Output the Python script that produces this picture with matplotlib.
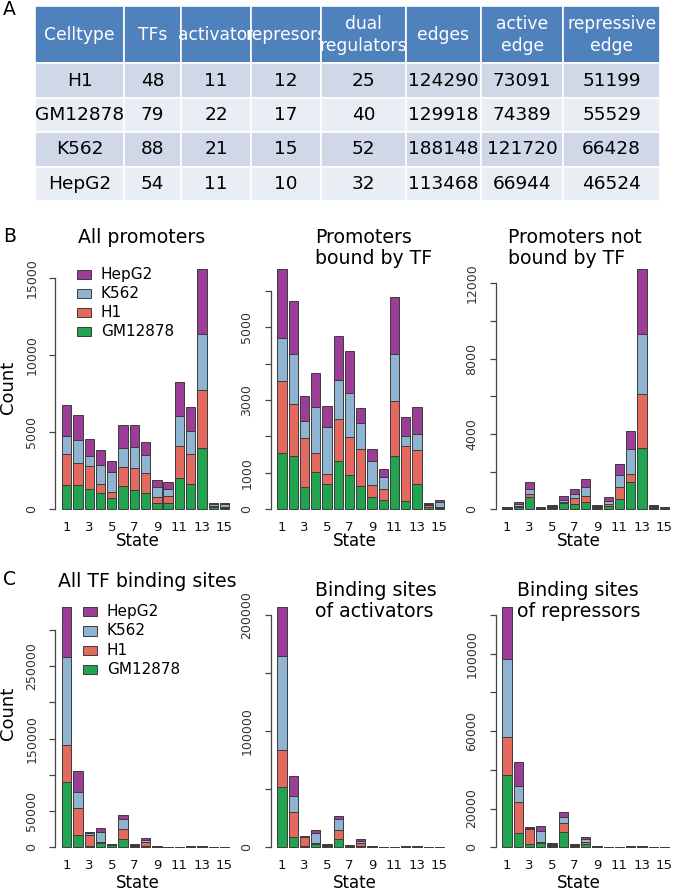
import numpy as np
import matplotlib
matplotlib.use("Agg")
import matplotlib.pyplot as plt
from matplotlib.patches import Rectangle

plt.rcParams['font.family'] = ['DejaVu Sans']

W, H = 673, 892

# ---------------- data ----------------
cell_types = ["GM12878", "H1", "K562", "HepG2"]          # stacking order, bottom -> top
legend_order = ["HepG2", "K562", "H1", "GM12878"]
colors = {"GM12878": "#22A34F", "H1": "#E4695F", "K562": "#8EB4D1", "HepG2": "#9C3E97"}
states = list(range(1, 16))

# Panel A table
table_header = ["Celltype", "TFs", "activator", "represors", "dual\nregulators",
                "edges", "active\nedge", "repressive\nedge"]
table_celltypes = ["H1", "GM12878", "K562", "HepG2"]
table_tfs = [48, 79, 88, 54]
table_activators = [11, 22, 21, 11]
table_repressors = [12, 17, 15, 10]
table_dual = [25, 40, 52, 32]
table_edges = [124290, 129918, 188148, 113468]
table_active_edges = [73091, 74389, 121720, 66944]
table_repressive_edges = [51199, 55529, 66428, 46524]

# Panel B: all promoters
allprom_gm = [1575, 1554, 1295, 1036, 734, 1489, 1230, 1036, 388, 388, 2007, 1640, 3949, 120, 100]
allprom_h1 = [1986, 1424, 1510, 583, 367, 1230, 1424, 1295, 389, 475, 2115, 1964, 3777, 100, 60]
allprom_k562 = [1187, 1511, 648, 1273, 1338, 1252, 1360, 1208, 690, 432, 1942, 1489, 3647, 130, 160]
allprom_hepg2 = [2007, 1597, 1100, 971, 669, 1467, 1424, 820, 410, 453, 2179, 1554, 4208, 80, 60]

# Panel B: promoters bound by TF
bound_gm = [1537, 1455, 613, 1034, 686, 1327, 951, 640, 339, 247, 1455, 229, 695, 60, 40]
bound_h1 = [1976, 1427, 1354, 503, 293, 1143, 1025, 1007, 338, 311, 1509, 1500, 943, 50, 20]
bound_k562 = [1180, 1391, 448, 1272, 1290, 1071, 1208, 713, 640, 320, 1299, 275, 421, 40, 150]
bound_hepg2 = [1913, 1445, 705, 942, 576, 1226, 1162, 421, 330, 238, 1574, 521, 741, 33, 37]

# Panel B: promoters not bound by TF
unbound_gm = [40, 100, 637, 30, 60, 318, 283, 371, 60, 195, 566, 1433, 3255, 60, 40]
unbound_h1 = [30, 100, 194, 25, 50, 71, 318, 337, 50, 106, 602, 424, 2848, 60, 30]
unbound_k562 = [40, 80, 230, 25, 80, 106, 195, 477, 60, 124, 654, 1327, 3219, 60, 40]
unbound_hepg2 = [30, 110, 372, 26, 58, 213, 301, 407, 60, 230, 584, 991, 3450, 68, 31]

# Panel C: all TF binding sites
tfbs_gm = [89700, 16560, 2000, 5980, 2500, 11500, 1500, 1200, 400, 150, 250, 300, 400, 150, 120]
tfbs_h1 = [51500, 38180, 15000, 1380, 500, 13340, 1000, 6200, 300, 100, 200, 300, 400, 100, 80]
tfbs_k562 = [121000, 22080, 2300, 13800, 1200, 14720, 1200, 3200, 400, 150, 250, 300, 400, 150, 120]
tfbs_hepg2 = [69900, 28980, 1400, 5520, 400, 5520, 440, 2300, 300, 100, 200, 300, 300, 100, 80]

# Panel C: binding sites of activators
act_gm = [52300, 8620, 1440, 2590, 1200, 6900, 900, 1000, 250, 80, 150, 200, 250, 80, 70]
act_h1 = [31620, 22130, 7180, 860, 300, 7760, 600, 3000, 200, 70, 150, 200, 200, 70, 60]
act_k562 = [80480, 13800, 860, 8910, 800, 9480, 600, 1750, 250, 80, 150, 200, 250, 80, 70]
act_hepg2 = [42800, 16670, 580, 2870, 290, 3160, 200, 1150, 200, 70, 150, 200, 200, 70, 50]

# Panel C: binding sites of repressors
rep_gm = [37350, 7570, 1550, 2410, 800, 8090, 600, 1720, 150, 40, 100, 150, 200, 40, 30]
rep_h1 = [19790, 15830, 7750, 520, 300, 4650, 500, 1030, 100, 30, 80, 150, 150, 30, 20]
rep_k562 = [39930, 8100, 500, 5670, 800, 3090, 500, 1380, 150, 40, 100, 150, 200, 40, 30]
rep_hepg2 = [27190, 12560, 870, 2590, 340, 2240, 300, 1380, 100, 40, 70, 150, 150, 40, 20]

# y-axis ticks (positions) and which of them carry labels
yt_allprom = [0, 5000, 10000, 15000];            yl_allprom = [0, 5000, 10000, 15000]
yt_bound = [0, 1000, 2000, 3000, 4000, 5000, 6000]; yl_bound = [0, 1000, 3000, 5000]
yt_unbound = [0, 2000, 4000, 6000, 8000, 10000, 12000]; yl_unbound = [0, 4000, 8000, 12000]
yt_tfbs = [0, 50000, 100000, 150000, 200000, 250000, 300000]; yl_tfbs = [0, 50000, 150000, 250000]
yt_act = [0, 50000, 100000, 150000, 200000];     yl_act = [0, 100000, 200000]
yt_rep = [0, 20000, 40000, 60000, 80000, 100000, 120000]; yl_rep = [0, 20000, 60000, 100000]

xtick_states = [1, 3, 5, 7, 9, 11, 13, 15]

# ---------------- figure ----------------
fig = plt.figure(figsize=(W / 100, H / 100), dpi=100)


def px_axes(left, top, right, bottom):
    return fig.add_axes([left / W, 1 - bottom / H, (right - left) / W, (bottom - top) / H])


def ftext(x, y, s, **kw):
    fig.text(x / W, 1 - y / H, s, **kw)


def stacked(ax, layers, yticks, ylabels):
    centers = np.arange(len(states)) * 1.2 + 0.7
    bottom = np.zeros(len(states))
    for ct, vals in zip(cell_types, layers):
        vals = np.asarray(vals, dtype=float)
        ax.bar(centers, vals, width=1.0, bottom=bottom, color=colors[ct],
               edgecolor="#3c3c3c", linewidth=0.7)
        bottom += vals
    top = bottom.max()
    ax.set_ylim(-0.04 * top, 1.04 * top)
    lo, hi = centers[0] - 0.5, centers[-1] + 0.5
    pad = 0.04 * (hi - lo)
    ax.set_xlim(lo - pad, hi + pad)
    for s in ["top", "right", "bottom"]:
        ax.spines[s].set_visible(False)
    ax.spines["left"].set_bounds(yticks[0], yticks[-1])
    ax.spines["left"].set_color("#444444")
    ax.spines["left"].set_linewidth(0.9)
    ax.set_yticks(yticks)
    ax.set_yticklabels([str(t) if t in ylabels else "" for t in yticks])
    ax.tick_params(axis="y", length=6 * 0.72, width=0.9, color="#444444",
                   labelsize=9, labelcolor="#333333", pad=8, labelrotation=90)
    for lab in ax.get_yticklabels():
        lab.set_va("center")
        lab.set_ha("right")
    ax.set_xticks([centers[s - 1] for s in xtick_states])
    ax.set_xticklabels([str(s) for s in xtick_states])
    ax.tick_params(axis="x", length=0, labelsize=9.5, labelcolor="#111111", pad=1.5)
    ax.patch.set_alpha(0)


b_lr = [(55.3, 235.9), (270.6, 450.9), (495.6, 675.9)]
b_tb = (259.0, 518.9)
c_tb = (597.0, 856.9)

panels_b = [
    ([allprom_gm, allprom_h1, allprom_k562, allprom_hepg2], yt_allprom, yl_allprom),
    ([bound_gm, bound_h1, bound_k562, bound_hepg2], yt_bound, yl_bound),
    ([unbound_gm, unbound_h1, unbound_k562, unbound_hepg2], yt_unbound, yl_unbound),
]
panels_c = [
    ([tfbs_gm, tfbs_h1, tfbs_k562, tfbs_hepg2], yt_tfbs, yl_tfbs),
    ([act_gm, act_h1, act_k562, act_hepg2], yt_act, yl_act),
    ([rep_gm, rep_h1, rep_k562, rep_hepg2], yt_rep, yl_rep),
]

for (l, r), (layers, yt, yl) in zip(b_lr, panels_b):
    ax = px_axes(l, b_tb[0], r, b_tb[1])
    stacked(ax, layers, yt, yl)
for (l, r), (layers, yt, yl) in zip(b_lr, panels_c):
    ax = px_axes(l, c_tb[0], r, c_tb[1])
    stacked(ax, layers, yt, yl)

# titles
tfs = 13.6
lsp = 20.7
ftext(142, 243.3, "All promoters", ha="center", va="baseline", fontsize=tfs)
ftext(315, 243.3, "Promoters", ha="left", va="baseline", fontsize=tfs)
ftext(315, 243.3 + lsp, "bound by TF", ha="left", va="baseline", fontsize=tfs)
ftext(508, 243.3, "Promoters not", ha="left", va="baseline", fontsize=tfs)
ftext(508, 243.3 + lsp, "bound by TF", ha="left", va="baseline", fontsize=tfs)
ftext(147.5, 586.7, "All TF binding sites", ha="center", va="baseline", fontsize=tfs)
ftext(315, 596, "Binding sites", ha="left", va="baseline", fontsize=tfs)
ftext(315, 596 + lsp, "of activators", ha="left", va="baseline", fontsize=tfs)
ftext(517.3, 596, "Binding sites", ha="left", va="baseline", fontsize=tfs)
ftext(517.3, 596 + lsp, "of repressors", ha="left", va="baseline", fontsize=tfs)

# axis labels
ftext(8.5, 387, "Count", rotation=90, ha="center", va="center", fontsize=13)
ftext(8.5, 713, "Count", rotation=90, ha="center", va="center", fontsize=13)
for xc in [138, 355, 579]:
    ftext(xc, 546.5, "State", ha="center", va="baseline", fontsize=12)
    ftext(xc, 887.7, "State", ha="center", va="baseline", fontsize=12)

# panel letters
ftext(3, 15, "A", ha="left", va="baseline", fontsize=13.5)
ftext(3, 241.7, "B", ha="left", va="baseline", fontsize=13.5)
ftext(3, 585, "C", ha="left", va="baseline", fontsize=13.5)

# legends
def legend_at(x0, y0, dy, tx):
    for i, ct in enumerate(legend_order):
        yc = y0 + i * dy
        fig.patches.append(Rectangle((x0 / W, 1 - (yc + 4.6) / H), 13.8 / W, 9.2 / H,
                                     transform=fig.transFigure, facecolor=colors[ct],
                                     edgecolor="#3c3c3c", linewidth=0.7))
        ftext(tx, yc, ct, ha="left", va="center", fontsize=11)


legend_at(77.3, 274.5, 18.9, 101)
legend_at(82.7, 611.7, 19.2, 106.7)

# ---------------- table (panel A) ----------------
tab_ax = px_axes(35, 6, 660, 201)
tab_ax.axis("off")
col_px = [89.3, 56.7, 70, 70, 85, 74.7, 82.6, 96.7]
body = [[table_celltypes[i], table_tfs[i], table_activators[i], table_repressors[i],
         table_dual[i], table_edges[i], table_active_edges[i], table_repressive_edges[i]]
        for i in range(len(table_celltypes))]
body = [[str(v) for v in row] for row in body]
tbl = tab_ax.table(cellText=body, colLabels=table_header,
                   colWidths=[c / sum(col_px) for c in col_px],
                   cellLoc="center", bbox=[0, 0, 1, 1])
tbl.auto_set_font_size(False)
row_colors = ["#D0D8E8", "#E9EDF4"]
for (r, c), cell in tbl.get_celld().items():
    cell.set_edgecolor("white")
    cell.set_linewidth(1.2)
    if r == 0:
        cell.set_height(57.3)
        cell.set_facecolor("#4F81BD")
        cell.get_text().set_color("white")
        cell.get_text().set_fontsize(12.3)
        cell.get_text().set_linespacing(1.3)
    else:
        cell.set_height(34.4)
        cell.set_facecolor(row_colors[(r - 1) % 2])
        cell.get_text().set_color("black")
        cell.get_text().set_fontsize(13.3)

fig.savefig("out.png", dpi=100)
